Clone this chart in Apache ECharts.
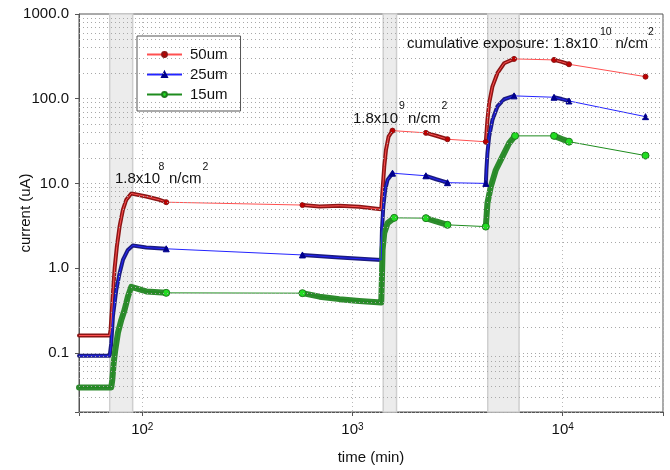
<!DOCTYPE html>
<html>
<head>
<meta charset="utf-8">
<script src="https://cdn.jsdelivr.net/npm/echarts@6.0.0/dist/echarts.min.js"></script>
<style>
  html, body { margin: 0; padding: 0; background: #fff; }
  #chart { width: 670px; height: 470px; }
</style>
</head>
<body>
<div id="chart"></div>
<script>
const um50 = [
  [[50, 0.16], [70, 0.16], [70.7, 0.19], [72.5, 0.5], [73.9, 1.0], [75.7, 1.8], [78, 3.1], [80.9, 4.9], [83.9, 6.4], [88.7, 7.6], [90.2, 7.8], [104.5, 7.0], [120.8, 6.4], [130, 6.0]],
  [[578, 5.55], [697, 5.35], [866, 5.45], [1077, 5.3], [1370, 4.95], [1390, 8.4], [1416, 15.8], [1443, 24.8], [1485, 35.7], [1550, 42]],
  [[2235, 39.5], [2500, 36.5], [2831, 33.2]],
  [[4307, 31], [4384, 56], [4467, 88], [4630, 139], [4891, 200], [5262, 262], [5869, 295]],
  [[9094, 287], [9900, 272], [10715, 255]],
  [[24770, 182]]
]
const um25 = [
  [[50, 0.092], [70, 0.092], [71.2, 0.13], [72.5, 0.27], [75.2, 0.55], [78, 0.87], [80.9, 1.25], [85.4, 1.64], [90.2, 1.85], [104.5, 1.75], [130, 1.69]],
  [[578, 1.43], [866, 1.33], [1370, 1.25], [1381, 2.83], [1401, 5.33], [1431, 8.4], [1468, 11.0], [1550, 13.2]],
  [[2235, 12.3], [2500, 11.2], [2831, 10.2]],
  [[4307, 10.0], [4335, 14.4], [4384, 22.7], [4467, 35.7], [4630, 56], [4891, 81], [5262, 98.5], [5869, 108]],
  [[9094, 104], [9900, 99], [10715, 94]],
  [[24770, 61.4]]
]
const um15 = [
  [[50, 0.039], [71.2, 0.039], [72, 0.048], [73.1, 0.076], [74.4, 0.108], [76.6, 0.172], [79.5, 0.245], [82.4, 0.322], [85.4, 0.458], [88.6, 0.6], [90.2, 0.63], [104.5, 0.53], [130, 0.51]],
  [[578, 0.506], [697, 0.46], [866, 0.43], [1077, 0.41], [1370, 0.392], [1381, 0.8], [1390, 1.64], [1416, 2.59], [1468, 3.39], [1579, 3.92]],
  [[2235, 3.89], [2500, 3.55], [2831, 3.24]],
  [[4307, 3.09], [4384, 5.84], [4550, 9.18], [4806, 14.4], [5166, 20.7], [5558, 29.8], [5935, 36.4]],
  [[9094, 36.4], [9900, 33.5], [10715, 31.1]],
  [[24770, 21.3]]
]
// irradiation periods (min)
const bands = [[70, 90], [1400, 1620], [4400, 6200]]
const seriesNames = ['50um', '25um', '15um']

// minor grid lines 2..9 per decade
let minorY = []
;[0.01, 0.1, 1, 10, 100].forEach(d => {
  for (let k = 2; k <= 9; k++) minorY.push(+(d * k).toPrecision(3))
})

// all points, marker only at the ends of each session (not at the left edge)
function flat (segs) {
  let out = []
  segs.forEach((s, i) => {
    s.forEach((p, j) => {
      let mark = (j === 0 && i > 0) || j === s.length - 1
      out.push(mark ? p : { value: p, symbol: 'none' })
    })
  })
  return out
}
// sessions only, gaps left open
function broken (segs) {
  let out = []
  segs.forEach((s, i) => {
    if (i) out.push([s[0][0], '-'])
    out = out.concat(s)
  })
  return out
}

const styles = [
  { segs: um50, line: '#ff5050', dark: '#8c1515', fill: '#c00000', border: '#8c1515', symbol: 'circle', size: 5, width: 4 },
  { segs: um25, line: '#2424ff', dark: '#1b1b80', fill: '#00008c', border: '#00008c', symbol: 'triangle', size: 6, width: 4 },
  { segs: um15, line: '#1e8c1e', dark: '#2e8b2e', fill: '#22dd22', border: '#1e7a1e', symbol: 'circle', size: 7, width: 6 }
]

let series = [{
  // helper: grey exposure bands + dotted minor grid
  type: 'line',
  data: [],
  z: 1,
  silent: true,
  markArea: {
    silent: true,
    itemStyle: { color: '#ececec', borderColor: '#cfcfcf', borderWidth: 1.5 },
    data: bands.map(b => [{ xAxis: b[0] }, { xAxis: b[1] }])
  },
  markLine: {
    silent: true,
    symbol: ['none', 'none'],
    label: { show: false },
    lineStyle: { color: '#a8a8a8', type: [1, 3], width: 1 },
    data: minorY.map(v => ({ yAxis: v }))
  }
}]
styles.forEach((s, i) => {
  // thick dense sessions
  series.push({
    name: seriesNames[i] + ' dense',
    type: 'line',
    data: broken(s.segs),
    connectNulls: false,
    symbol: 'none',
    z: 2,
    lineStyle: { color: s.dark, width: s.width, cap: 'round', join: 'round' }
  })
})
styles.forEach((s, i) => {
  series.push({
    name: seriesNames[i],
    type: 'line',
    data: flat(s.segs),
    symbol: s.symbol,
    symbolSize: s.size,
    z: 3,
    itemStyle: { color: s.fill, borderColor: s.border, borderWidth: 1 },
    lineStyle: { color: s.line, width: 1 }
  })
})

function isDecade (v) {
  let l = Math.log10(v)
  return Math.abs(l - Math.round(l)) < 1e-6
}

const font = 'Liberation Sans'
let notes = [
  { text: '1.8x10', x: 115, y: 179 }, { text: '8', x: 158.5, y: 167, sup: true },
  { text: 'n/cm', x: 169, y: 179 }, { text: '2', x: 202.5, y: 167, sup: true },
  { text: '1.8x10', x: 353, y: 119 }, { text: '9', x: 399, y: 106.5, sup: true },
  { text: 'n/cm', x: 408, y: 119 }, { text: '2', x: 441.5, y: 106.5, sup: true },
  { text: 'cumulative exposure: 1.8x10', x: 598, y: 44, right: true }, { text: '10', x: 600, y: 32.5, sup: true },
  { text: 'n/cm', x: 615.5, y: 44 }, { text: '2', x: 648, y: 32.5, sup: true }
]

let mychart = echarts.init(document.getElementById('chart'))
let option = {
  animation: false,
  backgroundColor: '#fff',
  grid: {
    left: 79, top: 14, right: 7, bottom: 58,
    containLabel: false,
    outerBoundsMode: 'none',
    show: true,
    borderColor: '#555',
    borderWidth: 1
  },
  legend: {
    data: seriesNames,
    orient: 'vertical',
    left: 137,
    top: 36,
    padding: [11, 13, 9, 9],
    itemGap: 5,
    itemWidth: 35,
    itemHeight: 6,
    backgroundColor: '#fff',
    borderColor: '#555',
    borderWidth: 1,
    borderRadius: 0,
    textStyle: { fontFamily: font, fontSize: 15, color: '#111', padding: [0, 0, 0, 3] }
  },
  xAxis: {
    type: 'log',
    logBase: 10,
    min: 50,
    max: 30000,
    name: 'time (min)',
    nameLocation: 'middle',
    nameGap: 38,
    nameTextStyle: { fontFamily: font, fontSize: 15, color: '#111' },
    axisLine: { lineStyle: { color: '#555', width: 1 } },
    axisTick: { show: true, inside: false, length: 4, lineStyle: { color: '#555' } },
    axisLabel: {
      margin: 10,
      color: '#111',
      formatter: v => isDecade(v) ? '{b|10}{s|' + Math.round(Math.log10(v)) + '}' : '',
      rich: {
        b: { fontFamily: font, fontSize: 15, color: '#111' },
        s: { fontFamily: font, fontSize: 10, color: '#111', verticalAlign: 'top' }
      }
    },
    splitLine: { show: true, lineStyle: { color: '#b8b8b8', type: [1, 3], width: 1 } },
    minorTick: { show: false },
    minorSplitLine: { show: false }
  },
  yAxis: {
    type: 'log',
    logBase: 10,
    min: 0.02,
    max: 1000,
    name: 'current (uA)',
    nameLocation: 'middle',
    nameGap: 46,
    nameMoveOverlap: false,
    nameRotate: 90,
    nameTextStyle: { fontFamily: font, fontSize: 15, color: '#111' },
    axisLine: { show: true, lineStyle: { color: '#555', width: 1 } },
    axisTick: { show: true, inside: false, length: 4, lineStyle: { color: '#555' } },
    axisLabel: {
      margin: 10,
      fontFamily: font,
      fontSize: 15,
      color: '#111',
      formatter: v => isDecade(v) ? v.toFixed(1) : ''
    },
    splitLine: { show: true, lineStyle: { color: '#a8a8a8', type: [1, 3], width: 1 } }
  },
  graphic: {
    elements: notes.map(n => ({
      type: 'text',
      x: n.x,
      y: n.y,
      z: 100,
      silent: true,
      style: {
        text: n.text,
        fontFamily: font,
        fontSize: n.sup ? 10.5 : 15,
        fill: '#111',
        align: n.right ? 'right' : 'left',
        verticalAlign: 'middle'
      }
    }))
  },
  series: series
}
mychart.setOption(option)
</script>
</body>
</html>
